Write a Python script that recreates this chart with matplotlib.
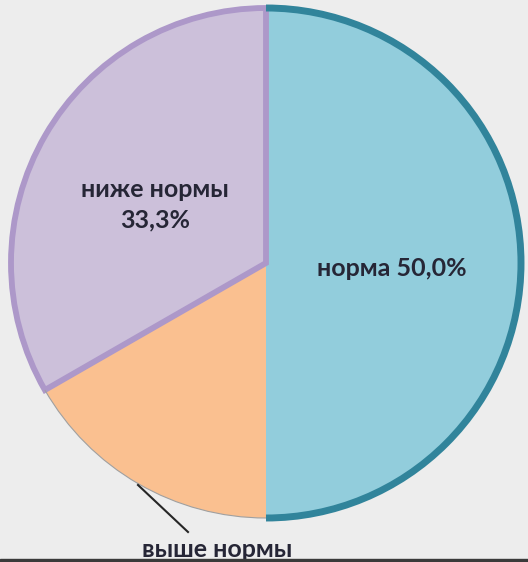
import matplotlib.pyplot as plt
from matplotlib.patches import Arc, Rectangle
from matplotlib import rcParams

rcParams['font.family'] = ['Lato', 'DejaVu Sans']
rcParams['font.weight'] = 'bold'

categories = ['норма', 'выше нормы', 'ниже нормы']
shares = [50.0, 16.7, 33.3]
colors = ['#92CDDC', '#FAC090', '#CCC0DA']

CX, CY, R = 266, 299, 255

fig = plt.figure(figsize=(5.28, 5.62), dpi=100)
fig.patch.set_facecolor('#EDEDED')
ax = fig.add_axes([0, 0, 1, 1])
ax.set_facecolor('#EDEDED')

wedges, _ = ax.pie(shares, colors=colors, startangle=90, counterclock=False,
                   center=(CX, CY), radius=R, frame=True,
                   wedgeprops=dict(linewidth=0))

# outlines as in the original
wedges[2].set_edgecolor('#AD98C9')
wedges[2].set_linewidth(4.2)
wedges[2].set_zorder(3)
ax.add_patch(Arc((CX, CY), 2 * R, 2 * R, theta1=-90, theta2=90,
                 color='#31849B', lw=5, zorder=4))
ax.add_patch(Arc((CX, CY), 2 * R, 2 * R, theta1=wedges[1].theta1, theta2=wedges[1].theta2,
                 color='#A0A0A0', lw=0.8, zorder=4))

total = sum(shares)
pct = ['{:.1f}%'.format(v / total * 100).replace('.', ',') for v in shares]

ax.text(392, 294, categories[0] + ' ' + pct[0], ha='center', va='center',
        fontsize=18, color='#262636', zorder=5)
ax.text(155, 357, categories[2] + '\n' + pct[2], ha='center', va='center',
        fontsize=18, color='#262636', linespacing=1.4, zorder=5)

# leader line + label for the small slice
ax.plot([138, 188], [77, 30], color='#262626', lw=1.5, zorder=5)
ax.text(217, 5, categories[1], ha='center', va='baseline',
        fontsize=18, color='#262636', zorder=5)

ax.add_patch(Rectangle((0, 0), 528, 3, color='#3A3A3A', zorder=6))

ax.set_xlim(0, 528)
ax.set_ylim(0, 562)
ax.set_aspect('auto')
ax.axis('off')

plt.savefig('out.png', dpi=100, facecolor=fig.get_facecolor())
